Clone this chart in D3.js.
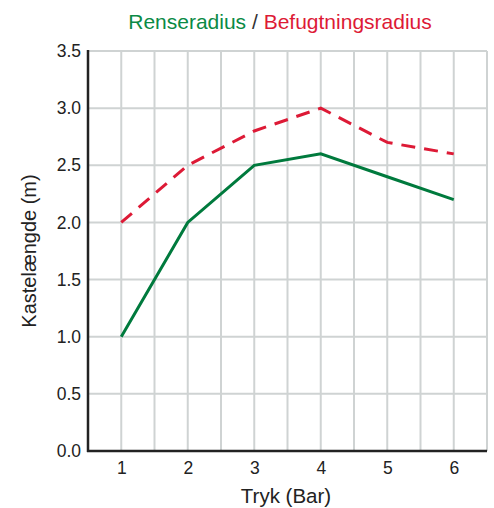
<!DOCTYPE html>
<html><head><meta charset="utf-8">
<script src="https://cdn.jsdelivr.net/npm/d3@7"></script>
<style>body{margin:0;background:#fff}svg{display:block}text{font-family:"Liberation Sans",Arial,sans-serif}</style>
</head><body>
<svg id="c" width="494" height="508"></svg>
<script>
const pressure = [1,2,3,4,5,6];
const renseradius = [1.0,2.0,2.5,2.6,2.4,2.2];
const befugtning = [2.0,2.5,2.8,3.0,2.7,2.6];
const yTicks = [0,0.5,1,1.5,2,2.5,3,3.5];
const xGrid = [1,1.5,2,2.5,3,3.5,4,4.5,5,5.5,6,6.5];

const svg = d3.select("#c");
const x = d3.scaleLinear().domain([0.5,6.5]).range([88,487]);
const y = d3.scaleLinear().domain([0,3.5]).range([451,51]);
const grid = "#cfd3d3";

svg.append("g").selectAll("line").data(yTicks.slice(1)).join("line")
  .attr("x1",88).attr("x2",487).attr("y1",d=>y(d)).attr("y2",d=>y(d))
  .attr("stroke",grid).attr("stroke-width",2);
svg.append("g").selectAll("line").data(xGrid).join("line")
  .attr("x1",d=>x(d)).attr("x2",d=>x(d)).attr("y1",51).attr("y2",451)
  .attr("stroke",grid).attr("stroke-width",2);

const yAxis = svg.append("g").attr("transform","translate(88,0)")
  .call(d3.axisLeft(y).tickValues(yTicks).tickFormat(d3.format(".1f")).tickSize(0).tickPadding(7));
const xAxis = svg.append("g").attr("transform","translate(0,451)")
  .call(d3.axisBottom(x).tickValues(pressure).tickFormat(d3.format("d")).tickSize(0).tickPadding(11));
[yAxis,xAxis].forEach(a=>{
  a.select(".domain").remove();
  a.selectAll("text").attr("font-size",17.5).attr("fill","#222").attr("font-family","Liberation Sans, Arial, sans-serif");
});
svg.append("line").attr("x1",88).attr("x2",88).attr("y1",50).attr("y2",452).attr("stroke","#222").attr("stroke-width",2.5);
svg.append("line").attr("x1",87).attr("x2",487).attr("y1",451).attr("y2",451).attr("stroke","#222").attr("stroke-width",2.5);

const line = d3.line().x((d,i)=>x(pressure[i])).y(d=>y(d));
svg.append("path").datum(befugtning).attr("d",line).attr("fill","none")
  .attr("stroke","#dd1a36").attr("stroke-width",3).attr("stroke-dasharray","14,9");
svg.append("path").datum(renseradius).attr("d",line).attr("fill","none")
  .attr("stroke","#007a3d").attr("stroke-width",3);

const t = svg.append("text").attr("x",280).attr("y",29).attr("text-anchor","middle").attr("font-size",21);
t.append("tspan").attr("fill","#0a8a45").text("Renseradius");
t.append("tspan").attr("fill","#333").text(" / ");
t.append("tspan").attr("fill","#dd1a36").text("Befugtningsradius");

svg.append("text").attr("x",286).attr("y",503).attr("text-anchor","middle").attr("font-size",20.5).attr("fill","#222").text("Tryk (Bar)");
svg.append("text").attr("transform","translate(36,251) rotate(-90)").attr("text-anchor","middle").attr("font-size",20).attr("fill","#222").text("Kastelængde (m)");
</script>
</body></html>
